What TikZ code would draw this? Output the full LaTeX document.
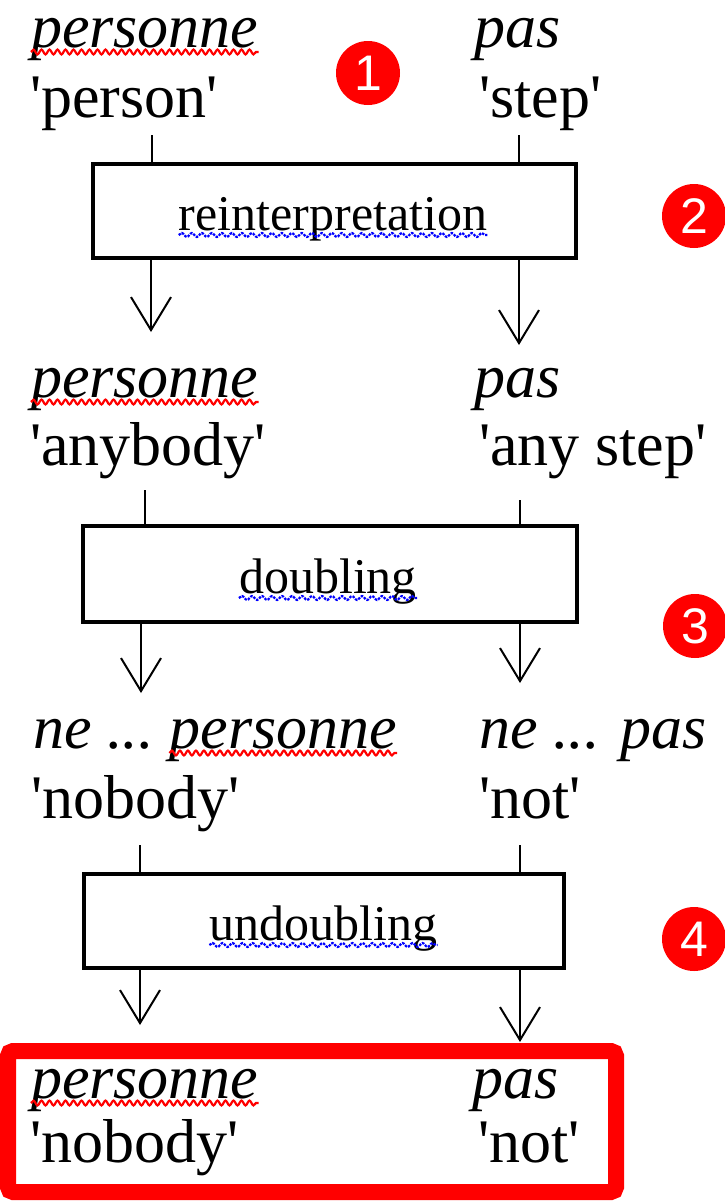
\documentclass[tikz,border=0pt]{standalone}
\usepackage{fontspec}
\setmainfont{Liberation Serif}[Ligatures=TeXOff]
\newfontfamily\badgefont{Liberation Sans}
\usetikzlibrary{arrows.meta,decorations.pathmorphing}

\begin{document}
\begin{tikzpicture}[
        x=1pt,
        y=-1pt,
        word/.style={
            anchor=base west,
            inner sep=0pt,
            font=\fontsize{62}{62}\selectfont
          },
        fr/.style={
            word,
            font=\fontsize{62}{62}\selectfont\itshape
          },
        stage/.style={
            draw,
            line width=3.5pt,
            inner sep=0pt
          },
        stagename/.style={
            anchor=base,
            inner sep=0pt,
            font=\fontsize{50}{50}\selectfont
          },
        badge/.style={
            circle,
            fill=badgered,
            text=white,
            minimum size=64pt,
            inner sep=0pt,
            font=\badgefont\fontsize{50}{50}\selectfont
          },
        spell/.style={
            draw=badgered,
            line width=2.2pt,
            decorate,
            decoration={snake, amplitude=2.4pt, segment length=8pt}
          },
        grammar/.style={
            draw=gramblue,
            line width=2.2pt,
            dash pattern=on 2.5pt off 1.2pt,
            decorate,
            decoration={snake, amplitude=2pt, segment length=10pt}
          },
        link/.style={line width=2pt},
        flow/.style={link, -{Straight Barb[length=33pt, width=40pt]}}]
        % Define colors
        \definecolor{badgered}{RGB}{255,0,0}
        \definecolor{gramblue}{RGB}{0,0,255}

        \useasboundingbox (0,0) rectangle (724,1202);

        % First row
        \draw (31,47) node[fr] (pers1) {personne};
        \draw (30,117) node[word] (gl1) {'person'};
        \draw (474,47) node[fr] (pas1) {pas};
        \draw (479,117) node[word] (gr1) {'step'};
        \draw[spell] ([yshift=-5pt]pers1.base west) -- ([yshift=-5pt]pers1.base east);

        % Reinterpretation box
        \draw (334.5,211) node[stage, minimum width=483pt, minimum height=94pt] (reint) {};
        \draw (333,230) node[stagename] (reintname) {reinterpretation};
        \draw[grammar] ([yshift=-5pt]reintname.base west) -- ([yshift=-5pt]reintname.base east);
        \coordinate (in1l) at (152,135);
        \coordinate (in1r) at (519,135);
        \coordinate (out1l) at (151,332);
        \coordinate (out1r) at (519,345);
        \draw[link] (in1l) -- (in1l |- reint.north);
        \draw[link] (in1r) -- (in1r |- reint.north);
        \draw[flow] (out1l |- reint.south) -- (out1l);
        \draw[flow] (out1r |- reint.south) -- (out1r);

        % Second row
        \draw (31,397) node[fr] (pers2) {personne};
        \draw (30,465) node[word] (gl2) {'anybody'};
        \draw (474,397) node[fr] (pas2) {pas};
        \draw (479,465) node[word] (gr2) {'any step'};
        \draw[spell] ([yshift=-5pt]pers2.base west) -- ([yshift=-5pt]pers2.base east);

        % Doubling box
        \draw (330,574) node[stage, minimum width=494pt, minimum height=96pt] (doub) {};
        \draw (328,593) node[stagename] (doubname) {doubling};
        \draw[grammar] ([yshift=-5pt]doubname.base west) -- ([yshift=-5pt]doubname.base east);
        \coordinate (in2l) at (145,490);
        \coordinate (in2r) at (520,500);
        \coordinate (out2l) at (141,693);
        \coordinate (out2r) at (520,683);
        \draw[link] (in2l) -- (in2l |- doub.north);
        \draw[link] (in2r) -- (in2r |- doub.north);
        \draw[flow] (out2l |- doub.south) -- (out2l);
        \draw[flow] (out2r |- doub.south) -- (out2r);

        % Third row
        \draw (33,748) node[fr] (ne3) {ne ...};
        \draw ([xshift=15.5pt]ne3.base east) node[fr] (pers3) {personne};
        \draw (31,818) node[word] (gl3) {'nobody'};
        \draw (479,748) node[fr] (pas3) {ne ... pas};
        \draw (479,818) node[word] (gr3) {'not'};
        \draw[spell] ([yshift=-5pt]pers3.base west) -- ([yshift=-5pt]pers3.base east);

        % Undoubling box
        \draw (324,921) node[stage, minimum width=480pt, minimum height=94pt] (undoub) {};
        \draw (323.5,940) node[stagename] (undoubname) {undoubling};
        \draw[grammar] ([yshift=-5pt]undoubname.base west) -- ([yshift=-5pt]undoubname.base east);
        \coordinate (in3l) at (140,845);
        \coordinate (in3r) at (520,845);
        \coordinate (out3l) at (140,1025);
        \coordinate (out3r) at (520,1042);
        \draw[link] (in3l) -- (in3l |- undoub.north);
        \draw[link] (in3r) -- (in3r |- undoub.north);
        \draw[flow] (out3l |- undoub.south) -- (out3l);
        \draw[flow] (out3r |- undoub.south) -- (out3r);

        % Result row in red frame
        \draw[badgered, line width=16pt, rounded corners=5pt] (8,1051) rectangle (616,1192);
        \draw (31,1098) node[fr] (pers4) {personne};
        \draw (30,1162) node[word] (gl4) {'nobody'};
        \draw (472,1098) node[fr] (pas4) {pas};
        \draw (478,1162) node[word] (gr4) {'not'};
        \draw[spell] ([yshift=-5pt]pers4.base west) -- ([yshift=-5pt]pers4.base east);

        % Step badges
        \draw (368,73) node[badge] (b1) {1};
        \draw (694,216) node[badge] (b2) {2};
        \draw (695,626) node[badge] (b3) {3};
        \draw (694,939) node[badge] (b4) {4};
    \end{tikzpicture}
\end{document}
